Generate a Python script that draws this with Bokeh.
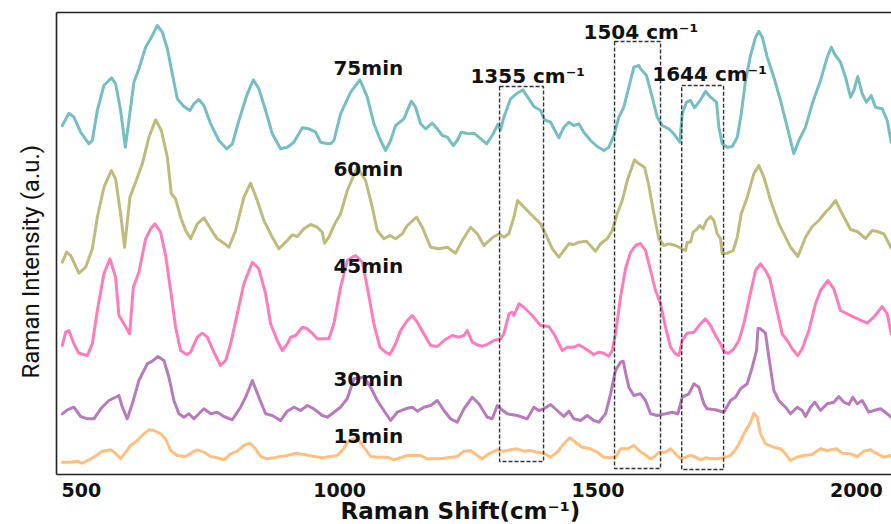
from bokeh.plotting import figure
from bokeh.models import Range1d, LinearAxis, Label, FixedTicker, Title
from bokeh.embed import file_html
from bokeh.resources import INLINE

# ---------------- data (Raman shift in cm^-1, intensity in a.u.) ----------------
series_names = ["15min", "30min", "45min", "60min", "75min"]
series_colors = ["#FFBF80", "#B77BBB", "#FF7DBA", "#BEBB7C", "#76BEC0"]
offsets = [0, 40, 100, 190, 300]

wn_75 = [463.3,476,485.7,498.7,514.8,521.3,531,543.8,558.7,566.4,
         576.1,585.2,592.2,601.8,611.5,624.5,634.2,647.1,656.8,666.5,
         676.1,685.8,698.6,710.2,717.9,727.6,737.3,750.3,766.3,781.2,
         792.3,805,821.3,832.9,843.7,856.7,869.6,885.7,898.7,911.4,
         927.7,940.4,953.4,963.1,972.8,982.5,988.9,1001.8,1021.2,1039.2,
         1053.5,1066.3,1079.2,1088.9,1098.6,1108.3,1124.3,1138.6,1147,1156.6,
         1166.3,1179.3,1189,1198.6,1208.3,1219.9,1227.6,1235.4,1250.1,1259.8,
         1269.4,1284.3,1295.3,1306.2,1311.4,1317.8,1330.8,1343.7,1354.6,1366.2,
         1375.9,1388.8,1396.6,1408.2,1424.2,1433.9,1443.6,1453.3,1462.9,1472.6,
         1485.6,1498.5,1511.3,1521,1530.7,1540.4,1550,1559.7,1569.4,1579,
         1582.3,1593.9,1604.9,1614.6,1624.3,1637.1,1646.7,1658.4,1663,1671.3,
         1679.1,1686.8,1698.4,1708.1,1717.8,1729.4,1733.9,1740.4,1750.1,1759.8,
         1769.5,1777.2,1785.5,1795.2,1804.9,1811.3,1817.9,1827.5,1840.3,1853.2,
         1866.2,1879,1888.7,1901.6,1914.6,1930.6,1943.6,1951.3,1959.6,1969.3,
         1979,1988.7,1995.1,2002.8,2011.3,2019.6,2028.7,2037,2050,2059.7,
         2067.4]
int_75 = [49,61.3,57.3,42.3,30.7,34,64,89,96.7,90.7,
          64,27.3,54,92.3,105.7,127.3,135.7,149,142.3,125.7,
          100.7,75.7,68,64,70.7,75,69,50.7,34,25.7,
          30.7,54,80.7,94.7,85.7,64,40.7,25.7,27.3,32.3,
          46.7,45.7,42.3,32.3,31.3,30.7,34,60.7,82.3,94.7,
          77.3,50.7,34,24,34,49,55.7,73.3,67.3,50.7,
          45.7,51.3,45.7,39,37.3,29,34,42.3,40.7,41.3,
          37.3,30.7,39,50,44.7,57.3,75.7,81.3,84.7,75.7,
          68,64,54.7,52.3,36.7,47.3,52.3,49,50.7,42.3,
          34,28,24,27.3,39,57.3,67.3,87.3,107.3,109,
          105.7,99,77.3,57.3,49,45.7,40.7,32.3,60.7,72.3,
          74,66.7,74.7,83.3,77.3,72.3,47.3,30.7,27.3,28,
          37.3,60.7,94,119,137.3,143.3,137.3,117.3,97.3,74,
          47.3,20.7,34,47.3,70.7,94,117.3,127.3,119,112.3,
          97.3,77.3,84,98,80.7,72.3,79,67.3,65.7,54,
          32.3]

wn_60 = [463.3,471.6,479.4,495.4,508.4,521.3,531,543.8,558.1,566.4,
         576.1,583.8,594.1,605.1,618.1,630.9,643.8,654.9,666.5,674.2,
         682.5,692.2,701.9,711.6,724.5,737.3,750.3,763.2,776,785.7,
         798.6,814.7,827.7,840.6,853.4,869.6,882.4,898.7,908.3,918,
         930.8,943.8,956.7,966.4,970.8,979.2,988.9,1001.8,1014.8,1034.1,
         1050.2,1063.1,1072.8,1085.6,1097.2,1108.3,1121.2,1130.9,1148.9,1159.9,
         1176,1192.1,1208.3,1224.4,1237.3,1253.4,1266.3,1279.1,1295.3,1308.1,
         1317.8,1327.5,1337.2,1344.3,1363.1,1375.9,1388.8,1398.5,1411.5,1424.2,
         1433.9,1443.6,1453.3,1462.9,1477.8,1495.3,1504.9,1517.8,1527.5,1537.2,
         1546.9,1556.6,1570.7,1579,1590,1598.4,1608.1,1617.8,1627.4,1637.1,
         1650,1663,1669.4,1672.6,1679.1,1684.3,1692,1697.1,1703.6,1710,
         1717.8,1724.2,1730.8,1737.1,1740.4,1750.1,1761.7,1769.5,1777.2,1788.8,
         1801.6,1811.3,1821,1833.9,1850,1862.9,1872.6,1886.7,1901.6,1914.6,
         1927.4,1940.3,1950,1959.6,1972.6,1988.7,2001.6,2017.8,2030.7,2040.4,
         2053.2,2067.4]
int_60 = [22.3,32.3,29,11.3,17.3,35.7,67.3,97.3,114,105.7,
          70.7,37.3,87.3,102.3,120.7,147.3,164.7,154,127.3,90.7,
          85.7,67.3,54,45.7,60.7,66.7,55.7,45.7,41.3,37.3,
          54,87.3,101.3,84,64,47.3,35.7,44,49.7,48,
          55.7,60,57.3,52.3,41.3,47.3,59,70.7,94,117.3,
          104,77.3,54,45.7,49,45.7,50.7,59,67.3,57.3,
          37.3,35.7,37.3,31.3,44,57.3,50.7,39,46.7,50.7,
          47.3,50.7,67.3,84,74,67.3,60.7,50.7,35.7,27.3,
          34,40.7,40,42.3,43.3,33.3,40.7,45.7,54,70.7,
          84,104,124.7,120.7,117.3,99,70.7,45.7,39,40.7,
          39,35.7,34,42.3,42.3,52.3,55.7,59,55.7,64,
          68,64,50.7,45.7,30.7,31.3,34,47.3,70.7,87.3,
          110.7,119,107.3,84,60.7,47.3,37.3,28,47.3,58,
          64,72.3,77.3,84,70.7,55,53,46,54,53,
          50.7,36.5]

wn_45 = [463.3,469.7,476,485.7,495.4,511.7,521.3,531,543.8,555.4,
         566.4,572.8,582.5,593.5,600.7,611.5,624.5,634.2,642.5,653.5,
         663.2,672.9,682.5,692.2,703.8,711.6,724.5,734.2,743.9,756.6,
         769.6,779.3,789,801.9,814.7,831,843.7,856.7,866.4,879.3,
         889,898.7,905.1,914.7,927.7,937.4,947,956.7,966.4,979.2,
         988.9,1001.8,1014.8,1024.5,1030.8,1043.8,1053.5,1066.3,1077.9,1088.9,
         1097.2,1108.3,1117.9,1130.9,1140.6,1150.2,1163,1176,1189,1201.8,
         1218,1230.8,1240.5,1247,1256.7,1266.3,1276,1285.7,1298.5,1311.4,
         1317.8,1327.5,1334,1337.2,1346.9,1356.5,1372.8,1388.8,1404.9,1414.6,
         1430.9,1440.5,1453.3,1462.9,1475.9,1491.9,1501.6,1511.3,1521,1527.5,
         1533.9,1543.6,1553.3,1563,1572.6,1582.3,1592,1601.7,1611.4,1621,
         1630.7,1640.4,1650,1656.5,1663,1672.6,1685.5,1698.4,1708.1,1717.8,
         1727.4,1737.1,1744.9,1753.2,1762.9,1772.6,1782.3,1791.9,1804.9,1814.5,
         1824.2,1832.5,1843.6,1856.5,1866.2,1875.9,1886.7,1895.2,1908,1921,
         1930.6,1944.8,1956.4,1969.3,1995.1,2020.9,2033.7,2050,2059.7,2067.4]
int_45 = [29,42.3,44,30.7,21.3,19,30.7,64,100.7,115.7,
          97.3,59,50.7,40.7,87.3,102.3,135.7,145.7,150.7,142.3,
          119,84,47.3,24,20,22.3,37.3,41.3,37.3,22.3,
          9,14,30.7,60.7,90.7,112.3,105.7,80.7,50.7,34,
          24,30.7,37.3,39,47.3,45.7,41.3,35.7,35.7,35.7,
          50.7,87.3,114,117.3,119,112.3,87.3,50.7,27.3,22.3,
          20,30.7,44,54,59,52.3,40.7,29,28,34,
          39,37.3,39,44,32.3,29.7,28.3,30,34,35.7,
          40.7,60.7,62.3,59,70.7,67.3,59,49,48,40.7,
          24,27.3,27.3,29.7,25.7,20,22.3,21.3,18.3,24,
          40.7,77.3,106,122,129,131,124,104,84,70.7,
          47.3,27.3,20.7,19,34,41.3,42.3,50.7,55.7,49,
          39,30.7,22.3,21.3,25.7,34,50.7,74,104,110.7,
          104,95.7,70.7,40.7,34,25.7,19,25.7,44,70.7,
          84,94,85.7,64,57.3,51.3,57.3,68,60.7,40.7]

wn_30 = [463.3,473,485.7,498.7,511.7,524.4,537.4,553.4,572.8,579.4,
         589,598.7,611.5,627.6,637.3,648.3,659.9,669.6,679.2,688.9,
         698.6,708.3,717.9,727.6,737.3,750.3,763.2,776,792.3,808.3,
         818,831,843.7,856.7,869.6,885.7,898.7,911.4,924.4,937.4,
         950.2,966.4,976.1,988.9,1001.8,1014.8,1027.6,1047,1059.9,1072.8,
         1085.6,1098.6,1111.5,1127.6,1140.6,1150.2,1163,1176,1189,1201.8,
         1214.7,1227.6,1240.5,1256.7,1269.4,1285.7,1295.3,1305,1311.4,1324.4,
         1343.7,1363.1,1375.9,1385.6,1395.3,1408.2,1421.1,1433.9,1443.6,1453.3,
         1466.2,1479.2,1492,1501.6,1514.6,1524.3,1533.9,1543.6,1548.8,1553.3,
         1559.7,1569.4,1582.3,1592,1601.7,1614.6,1630.7,1643.7,1654.5,1663,
         1675.8,1685.5,1695.2,1704.9,1711.4,1727.4,1743.5,1756.5,1766.1,1775.8,
         1788.8,1798.5,1806.8,1809.7,1814.5,1824.2,1830.6,1840.3,1849.9,1862.9,
         1872.6,1885.5,1895.2,1901.6,1911.3,1919.6,1930.6,1943.6,1956.4,1966.1,
         1975.8,1985.5,1993.2,2001.6,2011.3,2024.1,2033.7,2046.7,2059.7,2067.4]
int_30 = [20.7,24.7,27.3,18,15.7,15.7,25.7,34,39,27.3,
          15.7,30.7,54,70.7,73.3,78,74,57.3,34,20.7,
          17.3,20.7,15.7,20.7,25.7,20.7,22.3,18,14.7,27.3,
          37.3,54,37.3,20.7,19,14,23.3,27.3,24,29,
          25.7,19,17.3,22.3,27.3,36,55.7,57.3,47.3,34,
          24,14,22.3,25.7,27.3,23.3,27.3,29,34,24,
          15.7,12.3,25.7,37.3,30.7,17.3,15.7,29,25.7,20.7,
          19,15.7,27.3,24,25.7,30,24,18,23.3,15.7,
          14,19,14,12.3,20.7,40.7,64,72.3,73.3,62,
          47.3,39,40.7,34,20.7,19,20.7,22.3,20.7,37.3,
          40.7,50.7,47.3,30.7,25.7,24.7,22.3,34,37.3,45.7,
          50.7,67.3,84,106,105.7,101.3,77.3,44,34,27.3,
          20.7,27.3,24,18,27.3,32.3,24,30.7,32.3,38,
          32.3,30,37.3,30.7,34,22.3,24,25.7,20.7,17.3]

wn_15 = [463.3,479.4,492.3,502,511.7,524.4,540.7,556.8,566.4,576.1,
         585.8,595.5,608.4,621.2,630.9,640.5,653.5,663.2,672.9,685.8,
         701.9,714.8,724.5,737.3,750.3,763.2,776,789,801.9,814.7,
         826.3,837.3,847,859.9,872.7,885.7,898.7,914.7,930.8,950.2,
         966.4,982.5,995.4,1008.2,1014.8,1027.6,1037.3,1047,1059.9,1075.9,
         1092.1,1104.9,1117.9,1130.9,1143.7,1156.6,1169.6,1182.4,1195.3,1208.3,
         1227.6,1240.5,1253.4,1266.3,1276,1288.8,1305,1317.8,1330.8,1343.7,
         1356.5,1369.5,1382.4,1395.3,1408.2,1421.1,1433.9,1445.5,1456.6,1469.5,
         1485.6,1498.5,1511.3,1524.3,1533.9,1543.6,1556.6,1569.4,1579,1588.7,
         1601.7,1608.1,1617.8,1630.7,1640.4,1650,1659.7,1669.4,1679.1,1688.7,
         1698.4,1708.1,1717.8,1730.7,1743.5,1756.5,1769.5,1782.3,1795.2,1801.6,
         1808.1,1814.5,1824.2,1840.3,1853.2,1862.9,1872.6,1885.5,1898.4,1914.6,
         1930.6,1943.6,1961.6,1972.6,1988.7,2001.6,2014.4,2027.4,2040.4,2053.2,
         2067.4]
int_15 = [12.3,12.3,13.3,11.3,14,17.3,23.3,24.7,21.3,15.7,
          22.3,29,34,40.7,44.7,44,40.7,35.7,24,19,
          18,22.3,24.7,22.3,18,16.7,14.7,20.7,23.3,29,
          31.3,25.7,18,15.7,16.7,18,19,21.3,20,18,
          16.7,18,19,26,32.3,35.7,34,27.3,18,17.3,
          17.3,14.7,16.7,19,19,19,15.7,15.7,15.7,16.7,
          18,23.3,24,19,15.7,20.7,24.7,23.3,24.7,25.7,
          23.3,24,22.3,21.3,17.3,22.3,30.7,36.7,32.3,27.3,
          25.7,22.3,17.3,16.7,17.3,25.7,25.7,29,24,20.7,
          15.7,17.3,22.3,22.3,25.7,20.7,15.7,17.3,19,17.3,
          14.7,16.7,15.7,15.7,16.7,19,27.3,40.7,52.3,61.3,
          57.3,40.7,30.7,27.3,25.7,20.7,14,17.3,19,20,
          25.7,24,25.7,21.3,20.7,18,23.3,24.7,20.7,17.3,
          19]

x_ticks = [500, 1000, 1500, 2000]

peak_labels = ["1355 cm\u207b\u00b9", "1504 cm\u207b\u00b9", "1644 cm\u207b\u00b9"]
box_left = [1309.5, 1532, 1662]
box_right = [1394.6, 1621, 1743]
box_top = [388, 433, 389]
box_bottom = [13, 6, 5]

series = [(wn_15, int_15), (wn_30, int_30), (wn_45, int_45), (wn_60, int_60), (wn_75, int_75)]

# ---------------- figure ----------------
p = figure(width=891, height=524, output_backend="svg", toolbar_location=None,
           x_range=Range1d(452, 2068), y_range=Range1d(0, 462),
           min_border_left=56, min_border_right=0, min_border_top=12, min_border_bottom=50)
p.outline_line_color = None
p.grid.visible = False
p.background_fill_color = "white"
p.border_fill_color = "white"

for (wn, inten), off, col in zip(series, offsets, series_colors):
    p.line(wn, [v + off for v in inten], line_color=col, line_width=3,
           line_join="round", line_cap="round")

p.quad(left=box_left, right=box_right, top=box_top, bottom=box_bottom,
       fill_color=None, line_color="#333333", line_width=1.4, line_dash="4 2")

# axes
xa = p.xaxis[0]
xa.ticker = FixedTicker(ticks=x_ticks)
xa.major_tick_line_color = None
xa.minor_tick_line_color = None
xa.major_tick_out = 0
xa.major_tick_in = 0
xa.axis_line_width = 1.6
xa.axis_line_color = "#222222"
xa.major_label_text_font = "DejaVu Sans"
xa.major_label_text_font_style = "bold"
xa.major_label_text_font_size = "19px"
xa.major_label_text_color = "#111111"
xa.major_label_standoff = 8

ya = p.yaxis[0]
ya.ticker = FixedTicker(ticks=[])
ya.major_tick_line_color = None
ya.minor_tick_line_color = None
ya.major_tick_out = 0
ya.major_tick_in = 0
ya.major_label_standoff = 0
ya.axis_line_width = 1.6
ya.axis_line_color = "#222222"

top = LinearAxis(ticker=FixedTicker(ticks=[]), major_tick_line_color=None,
                 minor_tick_line_color=None, major_tick_out=0, major_tick_in=0,
                 axis_line_width=1.6, axis_line_color="#222222", major_label_standoff=0)
p.add_layout(top, "above")

# axis titles
xtitle = Title(text="Raman Shift(cm\u207b\u00b9)", align="left", offset=284, standoff=-8,
               text_font="DejaVu Sans", text_font_style="bold", text_font_size="23px",
               text_color="#111111")
p.add_layout(xtitle, "below")
ytitle = Title(text="Raman Intensity (a.u.)", align="left", offset=96, standoff=23,
               text_font="Roboto", text_font_style="normal", text_font_size="24px",
               text_color="#111111")
p.add_layout(ytitle, "left")

# series labels
label_x = 988
label_y = [39, 95.5, 209, 305.5, 406.5]
for name, ly in zip(series_names, label_y):
    p.add_layout(Label(x=label_x, y=ly, text=name, text_font="DejaVu Sans",
                       text_font_style="bold", text_font_size="20px",
                       text_align="left", text_baseline="middle", text_color="#111111"))

# peak labels
peak_lx = [1253, 1472, 1605]
peak_ly = [399, 443, 400.5]
for t, lx, ly in zip(peak_labels, peak_lx, peak_ly):
    p.add_layout(Label(x=lx, y=ly, text=t, text_font="DejaVu Sans",
                       text_font_style="bold", text_font_size="20px",
                       text_align="left", text_baseline="middle", text_color="#111111"))

open("out.html", "w").write(file_html(p, INLINE))
